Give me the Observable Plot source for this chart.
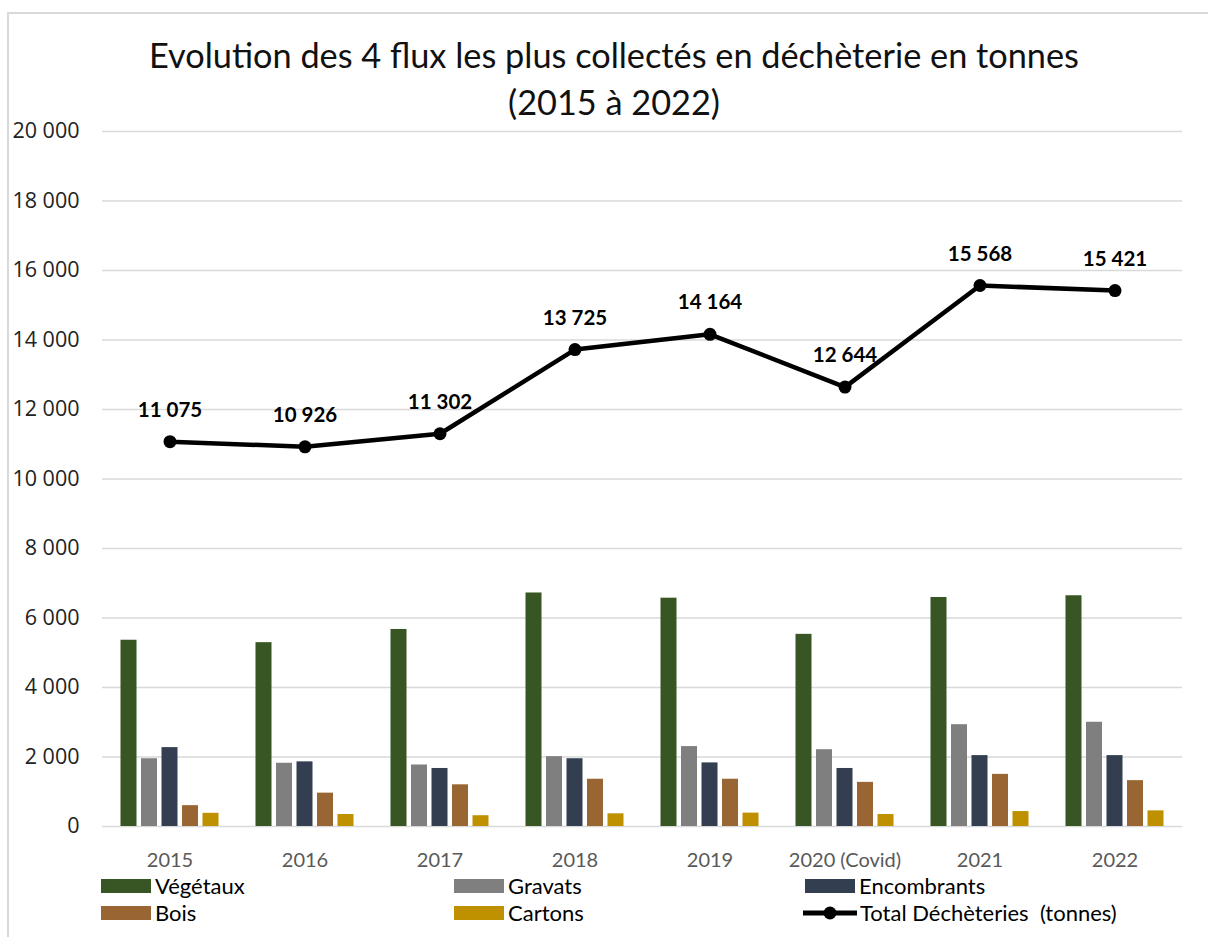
<!DOCTYPE html>
<html><head><meta charset="utf-8">
<script src="https://cdn.jsdelivr.net/npm/d3@7"></script>
<script src="https://cdn.jsdelivr.net/npm/@observablehq/plot@0.6"></script>
<style>
body{margin:0;background:#fff;}
#wrap{position:relative;width:1208px;height:937px;overflow:hidden;background:#fff;font-family:Lato,sans-serif;}
#frame{position:absolute;left:7px;top:12px;right:-4px;bottom:-4px;border-left:2px solid #d9d9d9;border-top:2px solid #d9d9d9;}
#title{position:absolute;left:0;width:1228px;top:31px;text-align:center;font-size:34.3px;line-height:47px;color:#111;font-weight:400;}
#chart{position:absolute;left:0;top:115px;}
.sw{position:absolute;width:50px;height:14px;}
.lab{position:absolute;font-size:22px;line-height:26px;height:26px;color:#000;white-space:nowrap;}
</style></head>
<body>
<div id="wrap">
  <div id="frame"></div>
  <div id="title">Evolution des 4 flux les plus collectés en déchèterie en tonnes<br>(2015 à 2022)</div>
  <div id="chart"></div>
  <div id="legend"></div>
</div>
<script>
const years = ["2015","2016","2017","2018","2019","2020 (Covid)","2021","2022"];
const seriesNames = ["Végétaux","Gravats","Encombrants","Bois","Cartons"];
const vegetaux    = [5360, 5290, 5670, 6720, 6570, 5530, 6590, 6640];
const gravats     = [1950, 1820, 1770, 2010, 2300, 2210, 2930, 3000];
const encombrants = [2270, 1860, 1670, 1950, 1830, 1670, 2040, 2040];
const bois        = [600, 960, 1200, 1360, 1360, 1270, 1500, 1320];
const cartons     = [380, 345, 310, 365, 385, 345, 430, 450];
const totalName = "Total Déchèteries  (tonnes)";
const totals      = [11075, 10926, 11302, 13725, 14164, 12644, 15568, 15421];
const yTicks      = [0,2000,4000,6000,8000,10000,12000,14000,16000,18000,20000];

const colors = ["#375623","#7f7f7f","#333f50","#996633","#bf9000"];
const offsets = [-41,-20.5,0,20.5,41];
const seriesValues = [vegetaux, gravats, encombrants, bois, cartons];

const fmt = v => d3.format(",")(v).replace(/,/g, " ");
const totalRows = years.map((y,i)=>({year:y, value:totals[i]}));

const barMarks = seriesValues.map((vals,k)=>
  Plot.barY(years.map((y,i)=>({year:y, value:vals[i]})), {
    x:"year", y:"value", fill:colors[k], insetLeft:59.5, insetRight:59.5, dx:offsets[k]
  }));

const plot = Plot.plot({
  width:1208, height:757,
  marginLeft:102, marginRight:26, marginTop:16, marginBottom:46,
  style:{fontFamily:"Lato, sans-serif", background:"transparent"},
  x:{type:"band", domain:years, padding:0},
  y:{domain:[0,20000]},
  marks:[
    Plot.ruleY(yTicks, {stroke:"#d9d9d9", strokeWidth:1.6}),
    ...barMarks,
    Plot.line(totalRows, {x:"year", y:"value", stroke:"#000", strokeWidth:4.5}),
    Plot.dot(totalRows, {x:"year", y:"value", r:6.5, fill:"#000"}),
    Plot.text(totalRows, {x:"year", y:"value", text:d=>fmt(d.value), dy:-25, lineAnchor:"bottom",
      fontWeight:"bold", fontSize:20.5, fill:"#000"}),
    Plot.axisX({tickSize:0, tickPadding:26, fontSize:20, color:"#595959", label:null}),
    Plot.axisY({ticks:yTicks, tickSize:0, tickPadding:23, tickFormat:fmt, fontSize:21.5,
      fontFamily:"Open Sans", color:"#222", label:null})
  ]
});
document.getElementById("chart").appendChild(plot);

// legend
const legend = document.getElementById("legend");
const legendItems = [
  {name:seriesNames[0], color:colors[0], left:101, top:879},
  {name:seriesNames[1], color:colors[1], left:454, top:879},
  {name:seriesNames[2], color:colors[2], left:805, top:879},
  {name:seriesNames[3], color:colors[3], left:101, top:906},
  {name:seriesNames[4], color:colors[4], left:454, top:906},
];
legendItems.forEach(it=>{
  const sw=document.createElement("div"); sw.className="sw";
  sw.style.left=it.left+"px"; sw.style.top=it.top+"px"; sw.style.background=it.color;
  legend.appendChild(sw);
  const lb=document.createElement("div"); lb.className="lab";
  lb.style.left=(it.left+54)+"px"; lb.style.top=(it.top-6)+"px"; lb.textContent=it.name;
  legend.appendChild(lb);
});
const ns="http://www.w3.org/2000/svg";
const ls=document.createElementNS(ns,"svg");
ls.setAttribute("width","60"); ls.setAttribute("height","20");
ls.style.position="absolute"; ls.style.left="801px"; ls.style.top="903px";
ls.innerHTML='<line x1="2" y1="10" x2="56" y2="10" stroke="#000" stroke-width="5"/><circle cx="29" cy="10" r="6.5" fill="#000"/>';
legend.appendChild(ls);
const tl=document.createElement("div"); tl.className="lab";
tl.style.left="860px"; tl.style.top="900px"; tl.style.whiteSpace="pre"; tl.textContent=totalName;
legend.appendChild(tl);
</script>
</body></html>
